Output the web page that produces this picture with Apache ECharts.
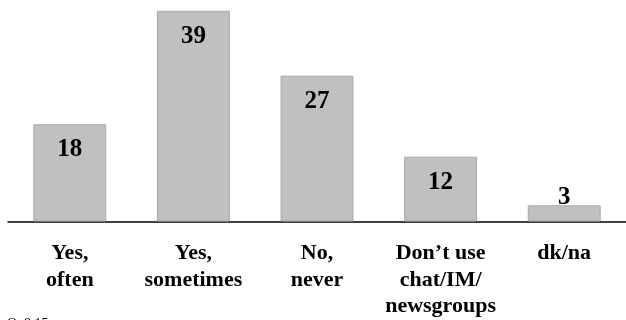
<!DOCTYPE html>
<html>
<head>
<meta charset="utf-8">
<script src="https://cdn.jsdelivr.net/npm/echarts@6/dist/echarts.min.js"></script>
<style>
  html, body { margin: 0; padding: 0; background: #fff; }
  #chart { width: 626px; height: 320px; }
</style>
</head>
<body>
<div id="chart"></div>
<script>
const categories = ["Yes,\noften", "Yes,\nsometimes", "No,\nnever", "Don\u2019t use\nchat/IM/\nnewsgroups", "dk/na"];
const values = [18, 39, 27, 12, 3];
const footnote = "Q. 8.15";

const serif = "'Liberation Serif', 'DejaVu Serif', serif";
const chart = echarts.init(document.getElementById('chart'), null, { renderer: 'canvas' });

const data = values.map(v => ({
  value: v,
  label: v < 8
    ? { position: 'top', distance: -5 }
    : { position: 'insideTop', distance: 13 }
}));

chart.setOption({
  animation: false,
  backgroundColor: '#ffffff',
  grid: { left: 8, right: -1, top: 5.4, bottom: 97, containLabel: false },
  xAxis: {
    type: 'category',
    data: categories,
    axisLine: { show: true, lineStyle: { color: '#000', width: 1.5 } },
    axisTick: { show: false },
    axisLabel: {
      interval: 0,
      margin: 19,
      color: '#000',
      fontFamily: serif,
      fontWeight: 'bold',
      fontSize: 22,
      lineHeight: 26.5
    }
  },
  yAxis: {
    type: 'value',
    min: 0,
    max: 40,
    show: false,
    splitLine: { show: false }
  },
  series: [{
    type: 'bar',
    data: data,
    barWidth: '59%',
    itemStyle: { color: '#c0c0c0', borderColor: '#a9a9a9', borderWidth: 1 },
    label: {
      show: true,
      color: '#000',
      fontFamily: serif,
      fontWeight: 'bold',
      fontSize: 25
    }
  }],
  graphic: [{
    type: 'text',
    left: 7,
    top: 317,
    style: { text: footnote, font: "14px " + serif, fill: '#000' }
  }]
});
</script>
</body>
</html>
